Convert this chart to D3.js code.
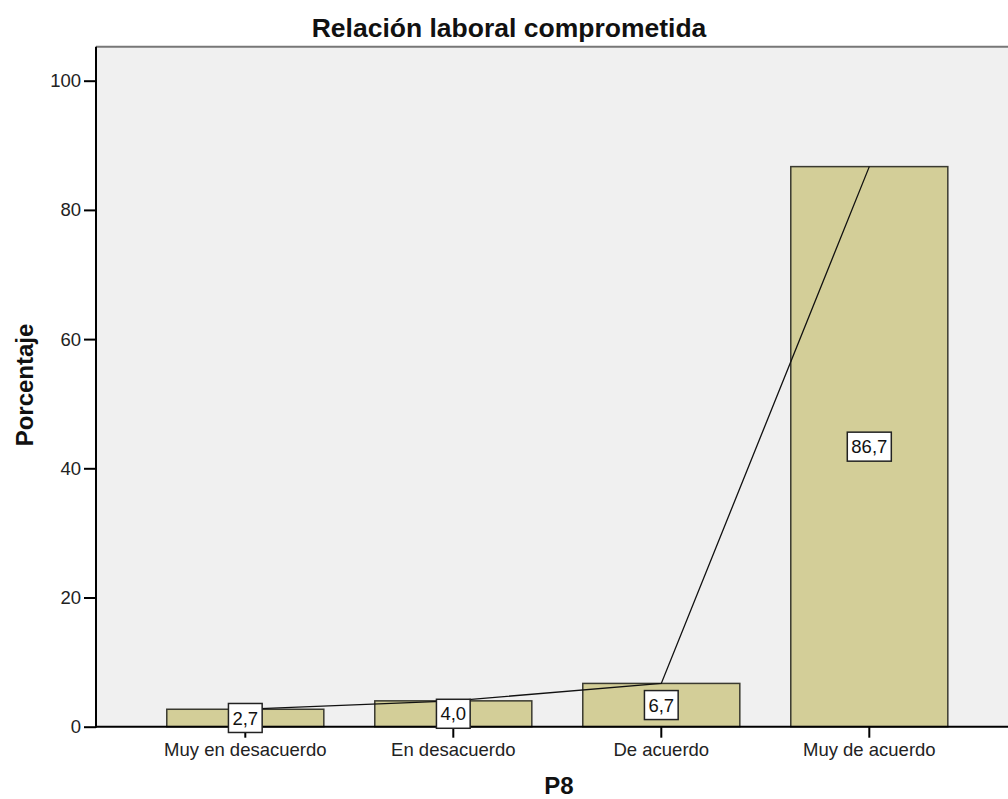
<!DOCTYPE html>
<html>
<head>
<meta charset="utf-8">
<script src="https://cdn.jsdelivr.net/npm/d3@7"></script>
<style>
  body { margin: 0; background: #fff; }
  text { font-family: Arial, "Liberation Sans", sans-serif; }
</style>
</head>
<body>
<div id="root"></div>
<script>
// data
var categories = ["Muy en desacuerdo", "En desacuerdo", "De acuerdo", "Muy de acuerdo"];
var percents = [2.7, 4.0, 6.7, 86.7];
var yTicks = [0, 20, 40, 60, 80, 100];

var W = 1008, H = 799;
// plot area edges
var plotL = 96, plotR = 1008, plotT = 46.7, plotB = 726.7;

var svg = d3.select("#root").append("svg")
    .attr("width", W)
    .attr("height", H);

var x = d3.scaleBand()
    .domain(categories)
    .range([141.3, 973.3])
    .paddingInner(0.245)
    .paddingOuter(0.1225);

var y = d3.scaleLinear()
    .domain([0, 100])
    .range([plotB, 80.7]);

var fmt = d3.formatLocale({ decimal: ",", thousands: ".", grouping: [3], currency: ["", ""] }).format(".1f");

// plot background
svg.append("rect")
    .attr("x", plotL).attr("y", plotT)
    .attr("width", plotR - plotL).attr("height", plotB - plotT)
    .attr("fill", "#f0f0f0");

svg.append("line")
    .attr("x1", plotL).attr("x2", plotR)
    .attr("y1", plotT).attr("y2", plotT)
    .attr("stroke", "#777").attr("stroke-width", 2);

// bars
var rows = categories.map(function (c, i) { return { cat: c, val: percents[i] }; });

svg.selectAll(".bar")
    .data(rows)
    .enter().append("rect")
    .attr("class", "bar")
    .attr("x", function (d) { return x(d.cat); })
    .attr("y", function (d) { return y(d.val); })
    .attr("width", x.bandwidth())
    .attr("height", function (d) { return y(0) - y(d.val); })
    .attr("fill", "#d3ce98")
    .attr("stroke", "#3a3a30")
    .attr("stroke-width", 1.5);

// line through bar tops
svg.append("path")
    .datum(rows)
    .attr("fill", "none")
    .attr("stroke", "#111")
    .attr("stroke-width", 1.3)
    .attr("d", d3.line()
        .x(function (d) { return x(d.cat) + x.bandwidth() / 2; })
        .y(function (d) { return y(d.val); })
    );

// y axis
var yAxis = svg.append("g")
    .attr("transform", "translate(" + plotL + ",0)")
    .call(d3.axisLeft(y).tickValues(yTicks).tickSize(12).tickPadding(3).tickFormat(d3.format("d")));
yAxis.select(".domain").remove();
yAxis.selectAll(".tick line").attr("stroke", "#000").attr("stroke-width", 2);
yAxis.selectAll("text").attr("font-size", 18.5).attr("fill", "#222");
svg.append("line")
    .attr("x1", plotL).attr("x2", plotL)
    .attr("y1", plotT).attr("y2", plotB + 1)
    .attr("stroke", "#000").attr("stroke-width", 2);

// x axis
var xAxis = svg.append("g")
    .attr("transform", "translate(0," + plotB + ")")
    .call(d3.axisBottom(x).tickSize(11).tickPadding(5));
xAxis.select(".domain").remove();
xAxis.selectAll(".tick line").attr("stroke", "#000").attr("stroke-width", 2);
xAxis.selectAll("text").attr("font-size", 18.5).attr("fill", "#222");
svg.append("line")
    .attr("x1", plotL).attr("x2", plotR)
    .attr("y1", plotB).attr("y2", plotB)
    .attr("stroke", "#000").attr("stroke-width", 2);

// value labels in boxes
var lab = svg.selectAll(".lab")
    .data(rows)
    .enter().append("g")
    .attr("class", "lab")
    .attr("transform", function (d) {
        return "translate(" + (x(d.cat) + x.bandwidth() / 2) + "," + y(d.val / 2) + ")";
    });

lab.append("rect").attr("fill", "#fff").attr("stroke", "#222").attr("stroke-width", 1.5);
lab.append("text")
    .attr("text-anchor", "middle")
    .attr("dy", "0.36em")
    .attr("font-size", 18.5)
    .attr("fill", "#111")
    .text(function (d) { return fmt(d.val); });
lab.each(function () {
    var g = d3.select(this);
    var bb = g.select("text").node().getBBox();
    g.select("rect")
        .attr("x", -bb.width / 2 - 4).attr("y", -14.5)
        .attr("width", bb.width + 8).attr("height", 29);
});

// titles
svg.append("text")
    .attr("x", 509).attr("y", 37)
    .attr("text-anchor", "middle")
    .attr("font-size", 26.5).attr("font-weight", "bold")
    .attr("fill", "#111")
    .text("Relación laboral comprometida");

svg.append("text")
    .attr("transform", "translate(33,385) rotate(-90)")
    .attr("text-anchor", "middle")
    .attr("font-size", 24).attr("font-weight", "bold")
    .attr("fill", "#111")
    .text("Porcentaje");

svg.append("text")
    .attr("x", 559).attr("y", 794)
    .attr("text-anchor", "middle")
    .attr("font-size", 24).attr("font-weight", "bold")
    .attr("fill", "#111")
    .text("P8");
</script>
</body>
</html>
